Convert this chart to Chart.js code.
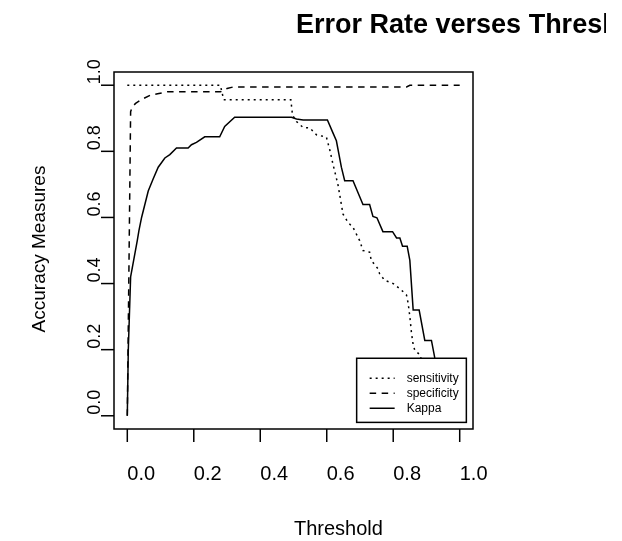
<!DOCTYPE html>
<html>
<head>
<meta charset="utf-8">
<title>Error Rate verses Threshold</title>
<script src="https://cdn.jsdelivr.net/npm/chart.js@4.4.1/dist/chart.umd.min.js"></script>
<style>
  html, body { margin: 0; padding: 0; background: #fff; }
  canvas { display: block; }
</style>
</head>
<body>
<canvas id="accChart" width="622" height="541"></canvas>
<script>
// threshold values and the measures read at each of them
const sensX = [0, 0.28, 0.29, 0.492, 0.497, 0.509, 0.529, 0.549, 0.569, 0.599, 0.609, 0.619, 0.634, 0.649, 0.664, 0.679, 0.699, 0.709, 0.729, 0.734, 0.754, 0.759, 0.774, 0.80, 0.825, 0.84, 0.845, 0.85, 0.855, 0.86, 0.865, 0.88, 0.9, 0.95, 1.0];
const sensY = [1, 1, 0.956, 0.956, 0.91, 0.89, 0.872, 0.871, 0.85, 0.843, 0.805, 0.76, 0.698, 0.61, 0.585, 0.57, 0.53, 0.50, 0.495, 0.47, 0.445, 0.43, 0.41, 0.40, 0.38, 0.365, 0.34, 0.30, 0.25, 0.215, 0.198, 0.185, 0.12, 0.04, 0];

const specX = [0, 0.005, 0.01, 0.015, 0.025, 0.045, 0.07, 0.095, 0.12, 0.28, 0.30, 0.32, 0.84, 0.85, 1.0];
const specY = [0, 0.45, 0.92, 0.935, 0.945, 0.958, 0.97, 0.975, 0.98, 0.98, 0.99, 0.995, 0.995, 1.0, 1.0];

const kappaX = [0, 0.003, 0.01, 0.03, 0.035, 0.043, 0.063, 0.078, 0.093, 0.113, 0.128, 0.148, 0.183, 0.193, 0.208, 0.233, 0.278, 0.293, 0.323, 0.494, 0.509, 0.529, 0.602, 0.619, 0.629, 0.644, 0.654, 0.679, 0.709, 0.729, 0.739, 0.751, 0.769, 0.798, 0.81, 0.82, 0.828, 0.842, 0.85, 0.86, 0.878, 0.895, 0.915, 0.925, 0.95, 0.98, 1.0];
const kappaY = [0, 0.2, 0.42, 0.53, 0.56, 0.6, 0.68, 0.717, 0.752, 0.78, 0.79, 0.81, 0.81, 0.82, 0.827, 0.844, 0.844, 0.875, 0.903, 0.903, 0.898, 0.895, 0.895, 0.855, 0.832, 0.752, 0.711, 0.711, 0.639, 0.639, 0.603, 0.599, 0.557, 0.557, 0.538, 0.538, 0.513, 0.513, 0.47, 0.32, 0.32, 0.228, 0.228, 0.175, 0.1, 0.03, 0];

const xTicks = [0, 0.2, 0.4, 0.6, 0.8, 1.0];
const yTicks = [0, 0.2, 0.4, 0.6, 0.8, 1.0];
const seriesNames = ["sensitivity", "specificity", "Kappa"];

const pts = (xs, ys) => xs.map((x, i) => ({ x: x, y: ys[i] }));

const dashes = [[2, 4], [6.5, 5.5], []];
const FONT = "'Liberation Sans', Arial, sans-serif";

// base-graphics style frame, axes, labels and legend
const rStyle = {
  id: "rStyle",
  afterDatasetsDraw(chart) {
    const ctx = chart.ctx;
    const xs = chart.scales.x;
    const ys = chart.scales.y;
    const a = chart.chartArea;
    ctx.save();
    ctx.strokeStyle = "#000";
    ctx.fillStyle = "#000";
    ctx.lineWidth = 1.5;

    // legend box, bottom right inside the plot
    const lx = xs.getPixelForValue(0.69), rx = xs.getPixelForValue(1.02);
    const ty = ys.getPixelForValue(0.174), by = ys.getPixelForValue(-0.02);
    ctx.fillStyle = "#fff";
    ctx.fillRect(lx, ty, rx - lx, by - ty);
    ctx.strokeRect(lx, ty, rx - lx, by - ty);
    ctx.fillStyle = "#000";
    ctx.font = "12px " + FONT;
    ctx.textBaseline = "middle";
    ctx.textAlign = "left";
    seriesNames.forEach((name, i) => {
      const yy = ty + 20 + i * 15;
      ctx.setLineDash(dashes[i]);
      ctx.beginPath();
      ctx.moveTo(lx + 13, yy);
      ctx.lineTo(lx + 38, yy);
      ctx.stroke();
      ctx.setLineDash([]);
      ctx.fillText(name, lx + 50, yy);
    });

    // plot frame
    ctx.strokeRect(a.left, a.top, a.right - a.left, a.bottom - a.top);

    // x axis ticks and labels
    ctx.font = "20px " + FONT;
    ctx.textBaseline = "alphabetic";
    xTicks.forEach(v => {
      const px = xs.getPixelForValue(v);
      ctx.beginPath();
      ctx.moveTo(px, a.bottom);
      ctx.lineTo(px, a.bottom + 13);
      ctx.stroke();
      ctx.fillText(v.toFixed(1), px, a.bottom + 51);
    });

    // y axis ticks and rotated labels
    yTicks.forEach(v => {
      const py = ys.getPixelForValue(v);
      ctx.beginPath();
      ctx.moveTo(a.left, py);
      ctx.lineTo(a.left - 13, py);
      ctx.stroke();
      ctx.save();
      ctx.translate(a.left - 14, py - 1);
      ctx.rotate(-Math.PI / 2);
      ctx.font = "18px " + FONT;
      ctx.fillText(v.toFixed(1), 0, 0);
      ctx.restore();
    });

    // axis titles
    ctx.font = "20px " + FONT;
    ctx.fillText("Threshold", 294, 535);
    ctx.save();
    ctx.translate(45, 249);
    ctx.rotate(-Math.PI / 2);
    ctx.textAlign = "center";
    ctx.font = "19px " + FONT;
    ctx.fillText("Accuracy Measures", 0, 0);
    ctx.restore();

    // main title, cut off at the right margin
    ctx.save();
    ctx.beginPath();
    ctx.rect(0, 0, 606, 60);
    ctx.clip();
    ctx.font = "bold 27px " + FONT;
    ctx.fillText("Error Rate verses Threshold", 296, 33);
    ctx.restore();
    ctx.restore();
  }
};

new Chart(document.getElementById("accChart"), {
  type: "line",
  data: {
    datasets: [
      { label: seriesNames[0], data: pts(sensX, sensY), borderDash: dashes[0] },
      { label: seriesNames[1], data: pts(specX, specY), borderDash: dashes[1] },
      { label: seriesNames[2], data: pts(kappaX, kappaY), borderDash: dashes[2] }
    ]
  },
  options: {
    responsive: false,
    animation: false,
    devicePixelRatio: 1,
    layout: { padding: { left: 114, top: 72, right: 149, bottom: 112 } },
    elements: {
      point: { radius: 0 },
      line: { borderColor: "#000", borderWidth: 1.5, tension: 0, fill: false }
    },
    scales: {
      x: { type: "linear", min: -0.04, max: 1.04, display: false },
      y: { type: "linear", min: -0.04, max: 1.04, display: false }
    },
    plugins: {
      legend: { display: false },
      title: { display: false },
      tooltip: { enabled: false }
    }
  },
  plugins: [rStyle]
});
</script>
</body>
</html>
